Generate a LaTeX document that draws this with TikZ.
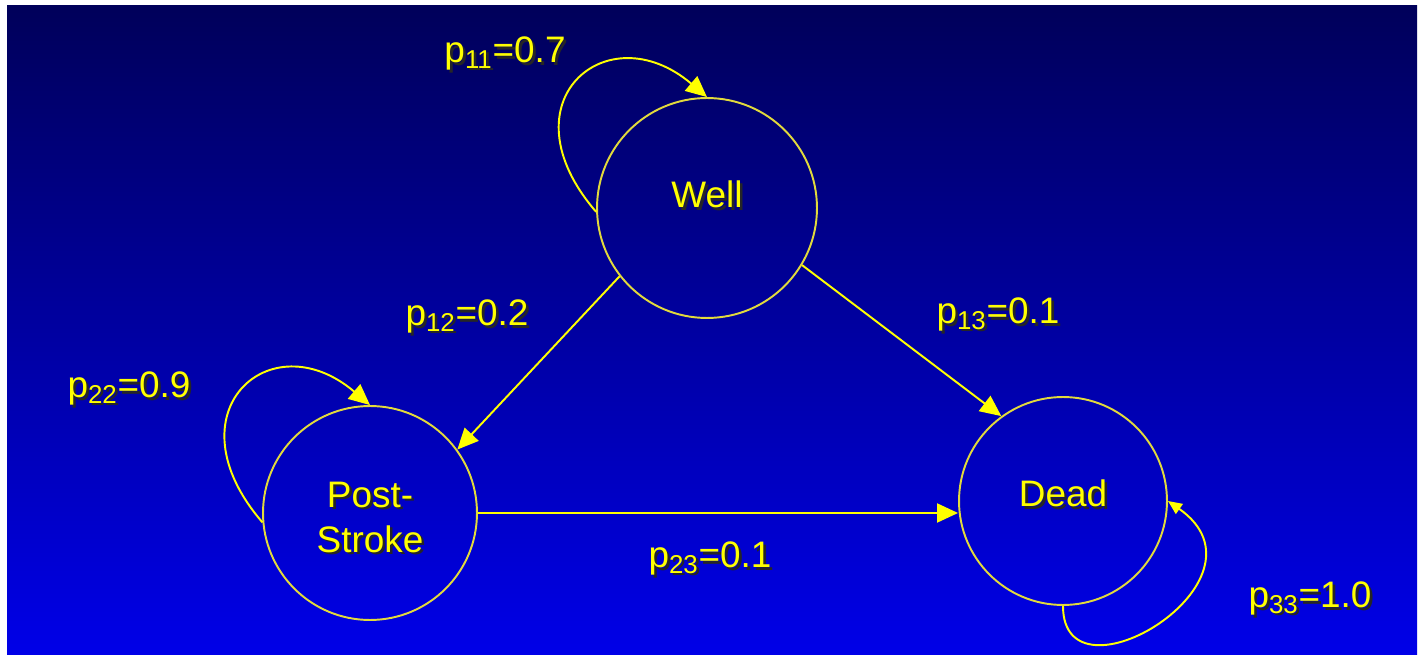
\documentclass[tikz,border=0pt]{standalone}
\usepackage{fontspec}
\setmainfont{Liberation Sans}
\usetikzlibrary{arrows.meta,positioning}
\definecolor{navy}      {HTML}{00005A}
\definecolor{midblue}   {HTML}{0000B4}
\definecolor{brightblue}{HTML}{0000E8}
\definecolor{lemon}     {HTML}{FFFF00}
\definecolor{ring}      {HTML}{E2DA3C}
% yellow text with a dark drop shadow
\newcommand{\shd}[1]{\makebox[0pt][l]{\kern1.5pt\raisebox{-1.5pt}{\textcolor{black!85}{#1}}}#1}
% a line of state text, baseline placed by hand
\newcommand{\atbase}[2]{\raisebox{#1}[0pt][0pt]{\shd{#2}}}
\tikzset{
  % --- nodes
  state/.style = {circle, draw=ring, line width=1.1pt, inner sep=0pt, align=center,
                  text=lemon, font=\fontsize{21}{25.6}\selectfont},
  prob/.style  = {text=lemon, inner sep=0pt, font=\fontsize{21}{25}\selectfont},
  % --- edges
  tr/.style    = {draw=lemon, line width=1.1pt, -{Triangle[length=0.42cm,width=0.38cm]}},
  trsmall/.style = {tr, -{Triangle[length=0.28cm,width=0.24cm]}},
}
\begin{document}
\begin{tikzpicture}[x=0.02cm, y=-0.02cm]
  \fill[white] (0,0) rectangle (1418,655);
  \shade[top color=navy, middle color=midblue, bottom color=brightblue] (7,6) rectangle (1417,655);
  \useasboundingbox (0,0) rectangle (1418,655);

  % states
  \node[state, minimum size=4.4cm]  (well) at (707,208)  {\atbase{0pt}{Well}};
  \node[state, minimum size=4.28cm] (post) at (370,513)  {\atbase{-9.4pt}{Post-}\\\atbase{-9.4pt}{Stroke}};
  \node[state, minimum size=4.16cm] (dead) at (1063,501) {\atbase{-3.4pt}{Dead}};

  % transitions
  \draw[tr] (well.218) -- (post.36);
  \draw[tr] (well.-31) -- (dead.126);
  \draw[tr] (post.east) -- (post.east -| dead.west);
  \draw[tr] (well.182) .. controls +(-95,-110) and +(-100,-85) .. (well.north);
  \draw[tr] (post.185) .. controls +(-95,-110) and +(-100,-85) .. (post.north);
  \draw[trsmall] (dead.south) .. controls +(0,105) and +(113,79) .. (dead.east);

  % probabilities
  \node[prob] (p11) at (505,55)  {\shd{p\textsubscript{11}=0.7}};
  \node[prob] (p12) at (467,318) {\shd{p\textsubscript{12}=0.2}};
  \node[prob] (p13) at (998,316) {\shd{p\textsubscript{13}=0.1}};
  \node[prob] (p22) at (129,390) {\shd{p\textsubscript{22}=0.9}};
  \node[prob] (p23) at (710,560) {\shd{p\textsubscript{23}=0.1}};
  \node[prob] (p33) at (1310,600) {\shd{p\textsubscript{33}=1.0}};
\end{tikzpicture}
\end{document}
